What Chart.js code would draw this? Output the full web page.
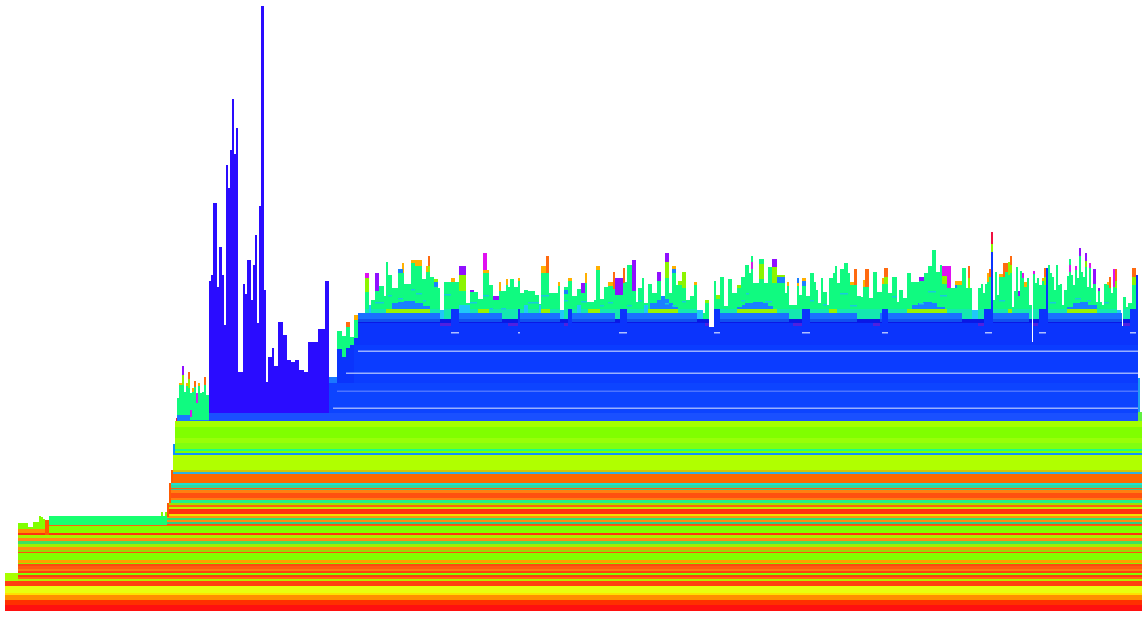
<!DOCTYPE html>
<html>
<head>
<meta charset="utf-8">
<title>Stack profile</title>
<script src="https://cdn.jsdelivr.net/npm/chart.js@4/dist/chart.umd.min.js"></script>
<style>
html, body { margin: 0; padding: 0; background: #fff; }
canvas { display: block; filter: blur(0.35px); }
</style>
</head>
<body>
<canvas id="profile" width="1142" height="620"></canvas>
<script>
//////////////////////// Base bands (top of each band, first time it appears) ////////////////////////
const bandHeight = [167,190,184,173,168,162,160,158,156,141,139,137,128,126,123,122,121,118,113,111,108,106,104,102,97,95,93,91,89,87,86,85,78,76,73,70,67,64,61,59,58,51,48,47,45,42,40,38,36,34,32,30,25,18,16,11,6];
const bandStart = [173,175,175,175,175,175,175,175,173,171,171,171,169,169,169,169,169,169,169,169,167,167,167,167,167,167,167,167,167,167,49,49,18,18,18,18,18,18,18,18,18,18,18,18,18,18,18,18,18,18,18,5,5,5,5,5,5];
const bandColor = ['#1090ff','#a4ff00','#80ff00','#98ff08','#80ff10','#20ff80','#80ff00','#1090ff','#b0ff00','#d4c800','#30b0e0','#ff6800','#20e0d0','#30d8a0','#ff6010','#40c090','#ff8010','#ff5010','#ff8010','#20f090','#a0e000','#ff6010','#c0f000','#ff3010','#f0e000','#ff9010','#30e070','#ff9010','#30d080','#ff5010','#ff6010','#80ff00','#ff3010','#a8f000','#ff8c10','#40e060','#a0f000','#ff9010','#90e000','#ff5010','#80ff00','#ffa000','#90f000','#ff4810','#ff5c10','#ff7a10','#ff4010','#80ff00','#ff3c10','#ff6810','#b0f000','#ff4010','#e8ff10','#ffe000','#ff9000','#ff3000','#ff1010'];

//////////////////////// Left staircase ////////////////////////
const earlyX = [18,28,33,39,41,43,45,49,161,163,165,167];
const earlyTop = [88,84,89,95,94,92,91,0,99,0,99,0];
const earlyStripX = [18,45];
const earlyStripTop = [82,0];
const tealX = [49,167];
const tealTop = [95,0];
const firstStepX = [5,18];
const firstStepTop = [38,0];
const stairX = [45,49,167,169,171,173];
const stairTop = [91,0,108,128,141,0];
const stairBottom = [76,0,94,108,128,0];

//////////////////////// Tall indigo burst ////////////////////////
const burstX = [209,211,213,217,219,222,224,226,228,230,232,234,236,238,243,245,247,251,253,255,257,259,261,264,266,268,272,274,278,283,287,291,295,299,304,308,318,325,329];
const burstTop = [330,336,408,324,364,336,286,446,423,461,512,457,483,239,327,317,351,311,346,376,288,405,605,321,229,254,263,245,289,276,251,249,251,241,239,269,282,330,0];

//////////////////////// Green skyline ////////////////////////
const fuzzX = [177,179,182,184,186,188,190,192,194,196,198,200,202,204,206,209,337,342,346,350,354,358,
365,369,371,375,379,384,386,388,392,398,404,411,415,422,426,430,434,438,440,444,459,466,470,478,483,489,493,499,506,508,510,514,518,520,524,528,535,539,541,549,558,560,564,568,572,577,581,585,587,594,596,600,604,608,613,615,623,625,627,632,636,638,642,644,648,652,657,661,665,669,672,676,682,686,690,694,697,701,705,709,
714,716,720,724,728,732,737,741,745,749,751,753,759,764,768,772,785,787,789,797,799,802,806,810,814,816,818,821,823,827,829,833,835,837,840,844,848,850,857,861,863,869,873,877,882,888,892,897,899,903,907,911,919,924,928,932,936,940,942,947,957,962,966,972,978,981,983,985,987,989,993,995,997,999,1005,1008,1010,1012,1014,1016,1018,1020,1022,1024,1027,1029,1032,
1033,1035,1037,1039,1042,1044,1048,1050,1052,1054,1056,1058,1060,1062,1064,1067,1069,1071,1073,1075,1077,1079,1081,1083,1085,1087,1089,1091,1093,1096,1098,1100,1102,1104,1107,1109,1111,1113,1115,1117,1121,1123,1126,1128,1132,1136];
const fuzzTop = [213,226,226,219,225,223,218,219,224,218,225,218,219,226,216,0,280,275,284,274,291,0,
319,306,311,320,325,315,349,336,323,338,327,348,345,332,339,334,324,323,301,329,320,308,319,312,338,326,311,320,326,324,332,324,330,318,321,320,316,307,338,318,325,301,324,330,315,322,318,328,309,311,341,312,324,325,322,316,328,329,346,320,309,323,333,308,327,318,330,315,333,318,338,326,323,311,315,326,301,298,308,0,
330,312,334,305,332,318,323,334,346,338,355,328,352,328,344,328,318,325,306,325,316,325,315,338,329,321,308,333,319,306,333,338,345,328,342,348,338,326,315,314,324,313,339,319,327,318,334,309,321,313,338,329,330,338,345,361,339,346,327,323,326,343,323,301,323,327,318,327,329,334,311,339,316,334,339,336,338,304,320,344,315,340,333,324,333,306,0,
337,328,333,326,330,326,346,338,334,321,346,326,327,306,321,335,352,336,326,341,333,355,339,334,344,324,343,323,327,309,320,309,306,327,326,323,318,324,323,301,0,314,304,308,326,0];

//////////////////////// Caps sitting on the skyline ////////////////////////
const redCapX = [176,178,991,993];
const redCapTop = [193,0,379,0];
const magentaCapX = [365,369,483,487,942,951,1022,1024,1033,1035,1075,1077,1089,1091,1113,1115];
const magentaCapTop = [338,0,358,0,345,0,338,0,340,0,345,0,348,0,342,0];
const purpleCapX = [182,184,375,379,459,466,470,474,493,499,528,535,554,558,581,585,615,623,632,636,657,661,665,669,772,777,919,924,1014,1016,1018,1020,1079,1081,1085,1087,1093,1096,1098,1100];
const purpleCapTop = [245,0,338,0,345,0,321,0,315,0,320,0,318,0,328,0,333,0,351,0,339,0,358,0,352,0,334,0,320,0,320,0,363,0,358,0,342,0,323,0];
const orangeCapX = [188,190,194,196,204,206,346,350,428,430,546,549,613,615,623,625,854,857,865,869,884,888,968,970,989,991,1003,1008,1010,1012,1044,1046,1109,1111,1115,1117,1132,1136];
const orangeCapTop = [239,0,230,0,234,0,289,0,355,0,355,0,339,0,343,0,342,0,342,0,343,0,345,0,342,0,348,0,355,0,343,0,334,0,342,0,343,0];
const yellowCapX = [179,182,186,188,192,194,198,200,354,358,402,404,411,422,426,428,451,455,483,489,499,501,506,508,518,520,541,546,558,560,568,572,585,587,596,600,608,613,672,676,694,697,714,716,787,789,797,799,802,806,850,854,863,865,882,884,955,962,987,989,999,1003,1024,1027,1042,1044,1107,1109];
const yellowCapTop = [228,0,228,0,223,0,228,0,296,0,348,0,351,0,345,0,333,0,341,0,329,0,332,0,333,0,345,0,329,0,333,0,338,0,345,0,329,0,345,0,329,0,330,0,329,0,333,0,333,0,329,0,331,0,333,0,330,0,338,0,337,0,329,0,333,0,329,0];
const limeCapX = [182,184,188,190,333,337,365,369,398,402,428,430,434,438,459,466,665,669,678,682,682,686,705,709,716,720,737,741,772,777,777,785,884,888,942,947,968,970,991,993,1008,1010,1010,1012,1044,1046,1085,1087,1115,1117,1132,1136];
const limeCapTop = [236,0,232,0,234,0,333,0,342,0,345,0,332,0,336,0,349,0,330,0,339,0,311,0,316,0,326,0,344,0,336,0,334,0,335,0,333,0,367,0,349,0,346,0,334,0,350,0,330,0,334,0];

//////////////////////// Low strips under the skyline ////////////////////////
const tealStripX = [365,440,444,560,564,697,714,972,978,1032,1033,1117,1123,1138];
const tealStripTop = [302,0,302,0,302,0,302,0,302,0,302,0,302,0];
const cyanX = [369,371,440,444,459,470,524,528,539,541,560,564,577,581,644,648,697,703,972,978,1117,1121];
const cyanTop = [306,0,301,0,306,0,306,0,306,0,301,0,306,0,306,0,301,0,301,0,301,0];
const domeX = [392,398,404,411,415,423,430,650,652,657,661,665,669,673,678,737,742,745,753,763,768,773,912,918,923,932,937,945,1067,1073,1080,1088,1097];
const domeTop = [308,309,310,310,308,305,0,308,308,311,315,312,308,304,0,304,306,308,309,308,305,0,306,308,309,308,304,0,304,308,309,306,0];
const limeBandX = [386,430,478,489,541,550,588,600,648,678,737,777,829,837,907,947,1008,1012,1067,1097];
const limeBandTop = [302,0,302,0,302,0,302,0,302,0,302,0,302,0,302,0,302,0,302,0];

//////////////////////// Blue body ////////////////////////
const leftShelfX = [177,190,209,329,337];
const leftShelfTop = [196,191,0,234,0];
const shelfX = [358,440,451,502,518,560,568,615,620,697,709,714,789,802,857,880,962,984,1029,1032,1033,1039,1122,1123,1130,1138];
const shelfTop = [298,292,298,292,298,292,298,292,298,292,284,298,292,298,292,298,292,298,292,269,292,298,285,292,298,0];
const shelfMid = [292,292,292,292,292,292,292,292,292,292,284,292,292,292,292,292,292,292,292,269,292,292,285,292,292,0];
const shelfDark = [289,292,289,292,289,292,289,292,289,292,284,289,292,289,292,289,292,289,292,269,292,289,285,292,289,0];
const bodyX = [337,342,346,350,354,358,451,459,518,520,568,572,620,627,709,714,720,802,810,882,888,984,991,993,1032,1033,1039,1046,1048,1122,1123,1130,1136,1138];
const bodyTop = [262,254,263,266,273,288,302,288,302,288,302,288,302,288,284,302,288,302,288,302,288,302,359,288,269,288,302,343,288,285,288,302,336,0];
const shadeStart = [354,329,209];
const shadeTop = [266,228,198];
const tailX = [1138,1140];
const tailTop = [233,0];
const tailLimeX = [1138,1142];
const tailLimeTop = [199,199];
const bodyEnd = 1138;

//////////////////////// Thin pale lines and small chips ////////////////////////
const paleStart = [358,346,337,333];
const paleTop = [260.5,238.5,220.5,203.5];
const pillarX = [451,459,518,520,619,627,714,720,802,810,882,888,985,992,1039,1046,1130,1136];
const pillarTop = [279,0,279,0,279,0,279,0,279,0,279,0,279,0,279,0,279,0];
const pillarBottom = [277.5,0,277.5,0,277.5,0,277.5,0,277.5,0,277.5,0,277.5,0,277.5,0,277.5,0];
const chipX = [440,451,508,518,564,568,705,709,793,802,873,880,978,984,1033,1038,1123,1130];
const chipTop = [288,0,288,0,288,0,288,0,288,0,288,0,288,0,288,0,288,0];
const chipBottom = [285,0,285,0,285,0,285,0,285,0,285,0,285,0,285,0,285,0];
const chunkBlueX = [398,403,434,438,564,568,672,676,777,785,797,799,802,806,955,957];
const chunkBlueTop = [342,0,329,0,321,0,342,0,334,0,333,0,330,0,326,0];
const chunkBlueBottom = [338,0,324,0,317,0,338,0,328,0,328,0,325,0,323,0];
const chunkMagentaX = [190,192,196,198,751,753,1069,1071];
const chunkMagentaTop = [201,0,218,0,349,0,346,0];
const chunkMagentaBottom = [194,0,208,0,342,0,339,0];
const chunkLimeX = [759,764];
const chunkLimeTop = [347,0];
const chunkLimeBottom = [332,0];
const stripeX = [375,384,388,392,398,403,411,415,416,422,423,426,444,451,470,477,483,489,490,493,501,506,528,539,541,549,564,568,581,587,600,604,608,613,627,632,638,642,665,669,672,676,682,686,741,745,746,749,765,772,810,814,823,827,840,848,850,857,892,897,919,924,928,936,940,947,999,1005,1050,1056,1075,1081,1087,1091,1104,1109];
const stripeTop = [309,0,316,0,313,0,322,0,318,0,311,0,317,0,309,0,316,0,303,0,303,0,309,0,316,0,311,0,310,0,306,0,309,0,306,0,311,0,308,0,306,0,310,0,311,0,318,0,310,0,311,0,307,0,318,0,306,0,315,0,308,0,320,0,316,0,311,0,309,0,313,0,311,0,309,0];
const stripeBottom = [307.5,0,314.5,0,311.5,0,320.5,0,316.5,0,309.5,0,315.5,0,307.5,0,314.5,0,301.5,0,301.5,0,307.5,0,314.5,0,309.5,0,308.5,0,304.5,0,307.5,0,304.5,0,309.5,0,306.5,0,304.5,0,308.5,0,309.5,0,316.5,0,308.5,0,309.5,0,305.5,0,316.5,0,304.5,0,313.5,0,306.5,0,318.5,0,314.5,0,309.5,0,307.5,0,311.5,0,309.5,0,307.5,0];

//////////////////////// Build datasets ////////////////////////
const toPoints = (xs, ys) => xs.map((x, i) => ({ x: x, y: ys[i] }));

//listed back to front, reversed at the end because Chart.js paints the first dataset last
const layers = [];

function addLayer(xs, tops, color) {
    layers.push({
        data: toPoints(xs, tops),
        stepped: true,
        fill: 'origin',
        backgroundColor: color,
        borderColor: 'transparent',
        borderWidth: 0,
        pointRadius: 0
    });
}

// a floating strip is a top line filled down to an invisible bottom line
function addStrip(xs, tops, bottoms, color) {
    layers.push({
        data: toPoints(xs, bottoms),
        stepped: true,
        fill: false,
        borderColor: 'transparent',
        borderWidth: 0,
        pointRadius: 0
    });
    layers.push({
        data: toPoints(xs, tops),
        stepped: true,
        fill: '+1',
        backgroundColor: color,
        borderColor: 'transparent',
        borderWidth: 0,
        pointRadius: 0
    });
}

addLayer(redCapX, redCapTop, '#f01040');
addLayer(magentaCapX, magentaCapTop, '#e010f0');
addLayer(purpleCapX, purpleCapTop, '#9010ff');
addLayer(orangeCapX, orangeCapTop, '#ff6a10');
addLayer(yellowCapX, yellowCapTop, '#ffb000');
addLayer(limeCapX, limeCapTop, '#8cf400');
addLayer(fuzzX, fuzzTop, '#10fa80');
addLayer(tealStripX, tealStripTop, '#14e8b0');
addLayer(cyanX, cyanTop, '#20c8f8');
addLayer(domeX, domeTop, '#1a80ff');
addLayer(limeBandX, limeBandTop, '#98f400');
addLayer(leftShelfX, leftShelfTop, '#1a78ff');
addLayer(shelfX, shelfTop, '#1a70ff');
addLayer(shelfX, shelfMid, '#1050f0');
addLayer(shelfX, shelfDark, '#0a18e6');
addLayer(burstX, burstTop, '#2a0cff');
addLayer(bodyX, bodyTop, '#0b34fc');
shadeStart.forEach((start, i) => {
    addLayer([start, bodyEnd], [shadeTop[i], shadeTop[i]], ['#0b3cff', '#0d44ff', '#1a50ff'][i]);
});
addLayer(tailX, tailTop, '#20a0f0');
addLayer(tailLimeX, tailLimeTop, '#60f040');
addLayer(earlyX, earlyTop, '#80ff00');
addLayer(earlyStripX, earlyStripTop, '#ff9000');
addLayer(tealX, tealTop, '#18ff70');
addLayer(firstStepX, firstStepTop, '#a8ff00');

bandHeight.forEach((h, i) => {
    addLayer([bandStart[i], 1142], [h, h], bandColor[i]);
});

paleStart.forEach((start, i) => {
    addStrip([start, bodyEnd], [paleTop[i], paleTop[i]], [paleTop[i] - 1.5, paleTop[i] - 1.5], ['#9ab0ff', '#9ab0ff', '#4d74ff', '#9ab0ff'][i]);
});
addStrip(pillarX, pillarTop, pillarBottom, '#b0c0ff');
addStrip(chipX, chipTop, chipBottom, '#5020e0');
addStrip(chunkBlueX, chunkBlueTop, chunkBlueBottom, '#1a80ff');
addStrip(chunkMagentaX, chunkMagentaTop, chunkMagentaBottom, '#d020e8');
addStrip(chunkLimeX, chunkLimeTop, chunkLimeBottom, '#8cf400');
addStrip(stripeX, stripeTop, stripeBottom, '#18c8e0');
addStrip(stairX, stairTop, stairBottom, '#ff5a00');

new Chart(document.getElementById('profile'), {
    type: 'line',
    data: { datasets: layers.reverse() },
    options: {
        responsive: false,
        animation: false,
        events: [],
        layout: { padding: { left: 5, bottom: 9 } },
        scales: {
            x: { type: 'linear', display: false, min: 5, max: 1142 },
            y: { display: false, min: 0, max: 611 }
        },
        plugins: {
            legend: { display: false },
            tooltip: { enabled: false }
        }
    }
});
</script>
</body>
</html>
